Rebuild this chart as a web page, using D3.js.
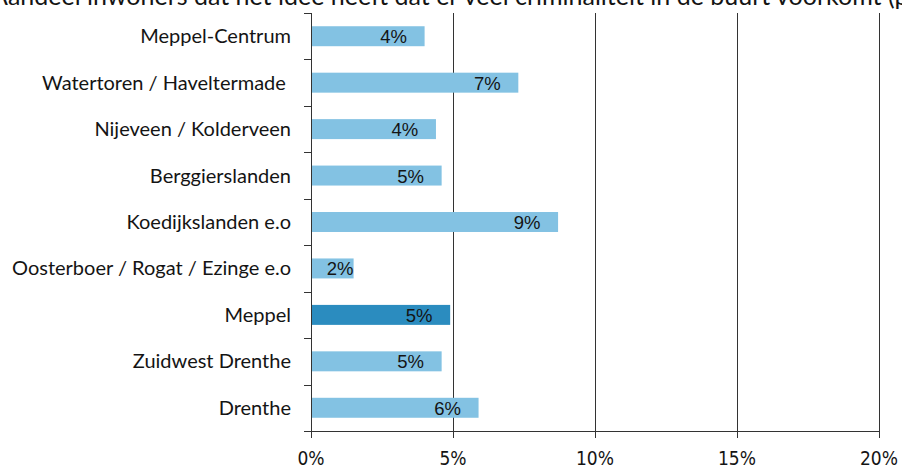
<!DOCTYPE html>
<html>
<head>
<meta charset="utf-8">
<script src="https://cdn.jsdelivr.net/npm/d3@7"></script>
<style>
  html, body { margin: 0; padding: 0; background: #fff; }
  svg { display: block; }
  .cat { font-family: "Lato", "Open Sans", sans-serif; font-size: 20px; fill: #141414; white-space: pre; }
  .val { font-family: "Liberation Sans", Arial, sans-serif; font-size: 18.5px; fill: #141414; }
  .tick-lab { font-family: "Liberation Sans Narrow", "DejaVu Sans Condensed", sans-serif; font-size: 19px; fill: #141414; }
  .title { font-family: "Lato", "Open Sans", sans-serif; font-size: 25px; fill: #141414; }
</style>
</head>
<body>
<svg id="chart" width="902" height="469"></svg>
<script>
// Share of residents who think there is a lot of crime in their neighbourhood (%)
const categories = [
  "Meppel-Centrum",
  "Watertoren / Haveltermade ",
  "Nijeveen / Kolderveen",
  "Berggierslanden",
  "Koedijkslanden e.o",
  "Oosterboer / Rogat / Ezinge e.o",
  "Meppel",
  "Zuidwest Drenthe",
  "Drenthe"
];
const values = [4.0, 7.3, 4.4, 4.6, 8.7, 1.5, 4.9, 4.6, 5.9];
const highlight = ["Meppel"];
const xTicks = [0, 5, 10, 15, 20];
const titleText = "Aandeel inwoners dat het idee heeft dat er veel criminaliteit in de buurt voorkomt (percentage)";

const svg = d3.select("#chart");
const plot = { left: 311, right: 879, top: 13, bottom: 431 };

const x = d3.scaleLinear().domain([0, 20]).range([plot.left, plot.right]);
const y = d3.scaleBand().domain(categories).range([plot.top, plot.bottom])
  .paddingInner(0.57).paddingOuter(0.285);

const data = categories.map((c, i) => ({ cat: c, v: values[i] }));

// Title line across the top
svg.append("text").attr("class", "title")
  .attr("x", -9).attr("y", 5)
  .text(titleText);

// Vertical gridlines (and their ticks below the axis)
svg.append("g").selectAll("line")
  .data(xTicks.filter(t => t > 0))
  .join("line")
  .attr("x1", d => x(d) + 0.5).attr("x2", d => x(d) + 0.5)
  .attr("y1", plot.top).attr("y2", plot.bottom + 7)
  .attr("stroke", "#333").attr("stroke-width", 1);

// Bars
svg.append("g").selectAll("rect")
  .data(data)
  .join("rect")
  .attr("x", x(0))
  .attr("y", d => y(d.cat))
  .attr("width", d => x(d.v) - x(0))
  .attr("height", y.bandwidth())
  .attr("fill", d => highlight.includes(d.cat) ? "#2b8cbf" : "#83c2e3");

// Value labels, placed towards the end inside each bar
const fmt = v => Math.round(v) + "%";
svg.append("g").selectAll("text")
  .data(data)
  .join("text")
  .attr("class", "val")
  .attr("text-anchor", "middle")
  .attr("x", d => Math.max(x(d.v) - 31, x(0) + 29))
  .attr("y", d => y(d.cat) + y.bandwidth() / 2 + 7)
  .text(d => fmt(d.v));

// Y axis: line at zero with category ticks between the bands
const yAxis = svg.append("g");
yAxis.append("line")
  .attr("x1", plot.left + 0.5).attr("x2", plot.left + 0.5)
  .attr("y1", plot.top).attr("y2", plot.bottom + 7)
  .attr("stroke", "#333");
const bounds = d3.range(categories.length).map(i => y(categories[i]) - y.step() * y.paddingInner() / 2);
yAxis.selectAll("line.tk")
  .data(bounds)
  .join("line").attr("class", "tk")
  .attr("x1", plot.left - 7).attr("x2", plot.left)
  .attr("y1", d => Math.round(d) + 0.5).attr("y2", d => Math.round(d) + 0.5)
  .attr("stroke", "#333");
yAxis.selectAll("text")
  .data(categories)
  .join("text")
  .attr("class", "cat")
  .attr("text-anchor", "end")
  .attr("x", plot.left - 20)
  .attr("y", d => y(d) + y.bandwidth() / 2 + 7)
  .text(d => d);

// X axis line and tick labels
svg.append("line")
  .attr("x1", plot.left - 7).attr("x2", plot.right)
  .attr("y1", plot.bottom + 0.5).attr("y2", plot.bottom + 0.5)
  .attr("stroke", "#333");
svg.append("g").selectAll("text")
  .data(xTicks)
  .join("text")
  .attr("class", "tick-lab")
  .attr("text-anchor", "middle")
  .attr("x", d => x(d))
  .attr("y", 465)
  .text(d => d + "%");
</script>
</body>
</html>
